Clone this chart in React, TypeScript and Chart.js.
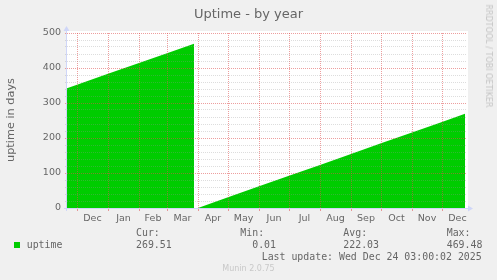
import React, { useEffect, useRef } from 'react';
import { Chart, registerables } from 'chart.js';

Chart.register(...registerables);

const W = 497;
const H = 280;

// Days counted from 1 Dec 2024
const segment1Days = [-10, 0, 31, 62, 90, 117];
const segment1Uptime = [342.5, 352.5, 383.5, 414.5, 442.5, 469.48];
const gapDay = 119;
const segment2Days = [121, 151, 182, 212, 243, 274, 304, 335, 365, 388];
const segment2Uptime = [0.01, 31, 62, 92, 123, 154, 185, 216, 246, 269.51];

const monthNames = ['Dec', 'Jan', 'Feb', 'Mar', 'Apr', 'May', 'Jun', 'Jul', 'Aug', 'Sep', 'Oct', 'Nov', 'Dec'];
const monthStartDays = [0, 31, 62, 90, 121, 151, 182, 212, 243, 274, 304, 335, 365];
const monthLengths = [31, 31, 28, 31, 30, 31, 30, 31, 31, 30, 31, 30, 31];
const yMajorTicks = [0, 100, 200, 300, 400, 500];
const yMinorStep = 20;
const xMin = -10;
const xMax = 390;

const legendLabels = ['Cur:', 'Min:', 'Avg:', 'Max:'];
const legendValues = ['269.51', '  0.01', '222.03', '469.48'];
const legendX = [136, 240.3, 343.3, 446.7];

const MAJOR = 'rgba(222,79,79,0.55)';
const MINOR = 'rgba(150,150,150,0.32)';
const AXIS = '#CFD6F8';
const FONT = '#666666';

type TextProps = {
  x: number;
  cy: number;
  size: number;
  text: string;
  align?: 'left' | 'center';
  family?: string;
  color?: string;
  rotate?: number;
};

function Txt({ x, cy, size, text, align = 'left', family = 'DejaVu Sans', color = FONT, rotate = 0 }: TextProps) {
  const style: React.CSSProperties = {
    position: 'absolute',
    left: x,
    top: rotate ? cy : cy - 0.481 * size,
    fontFamily: family,
    fontSize: size,
    lineHeight: `${size}px`,
    color,
    whiteSpace: 'pre',
  };
  if (rotate) {
    style.transform = `translate(-50%, -50%) rotate(${rotate}deg)`;
  } else if (align === 'center') {
    style.transform = 'translateX(-50%)';
  }
  return <div style={style}>{text}</div>;
}

export default function App() {
  const ref = useRef<HTMLCanvasElement | null>(null);

  useEffect(() => {
    document.body.style.margin = '0';
    const canvas = ref.current;
    if (!canvas) return;

    const points: { x: number; y: number | null }[] = [
      ...segment1Days.map((d, i) => ({ x: d, y: segment1Uptime[i] })),
      { x: gapDay, y: null },
      ...segment2Days.map((d, i) => ({ x: d, y: segment2Uptime[i] })),
    ];
    const monthMidDays = monthStartDays.map((d, i) => d + monthLengths[i] / 2);
    const yAllTicks: number[] = [];
    for (let v = yMajorTicks[0]; v <= yMajorTicks[yMajorTicks.length - 1]; v += yMinorStep) yAllTicks.push(v);

    const canvasBg = {
      id: 'canvasBg',
      beforeDraw(chart: any) {
        const { ctx, chartArea: a } = chart;
        ctx.save();
        ctx.fillStyle = '#ffffff';
        ctx.fillRect(a.left, a.top - 2, a.right - a.left + 1, a.bottom - a.top + 2);
        ctx.restore();
      },
    };

    const axes = {
      id: 'axesArrows',
      afterDraw(chart: any) {
        const { ctx, chartArea: a } = chart;
        ctx.save();
        ctx.strokeStyle = AXIS;
        ctx.fillStyle = AXIS;
        ctx.lineWidth = 1;
        const lx = a.left - 0.5;
        const by = a.bottom + 0.5;
        ctx.beginPath();
        ctx.moveTo(lx, a.bottom + 3);
        ctx.lineTo(lx, a.top - 2);
        ctx.stroke();
        ctx.beginPath();
        ctx.moveTo(lx - 3, a.top - 2);
        ctx.lineTo(lx + 3, a.top - 2);
        ctx.lineTo(lx, a.top - 7);
        ctx.closePath();
        ctx.fill();
        ctx.beginPath();
        ctx.moveTo(a.left - 3, by);
        ctx.lineTo(a.right + 2, by);
        ctx.stroke();
        ctx.beginPath();
        ctx.moveTo(a.right + 1, by - 3);
        ctx.lineTo(a.right + 1, by + 3);
        ctx.lineTo(a.right + 6, by);
        ctx.closePath();
        ctx.fill();
        ctx.restore();
      },
    };

    const tickFont = { family: 'DejaVu Sans', size: 9.5 };

    const chart = new Chart(canvas, {
      type: 'line',
      data: {
        datasets: [
          {
            label: 'uptime',
            data: points as any,
            xAxisID: 'x',
            yAxisID: 'y',
            fill: 'origin',
            backgroundColor: '#00cc00',
            borderColor: 'rgba(0,0,0,0)',
            borderWidth: 0,
            pointRadius: 0,
            tension: 0,
            spanGaps: false,
          },
        ],
      },
      options: {
        responsive: false,
        animation: false,
        events: [],
        layout: { padding: { left: 0, top: 33, right: 30, bottom: 52 } },
        plugins: {
          legend: { display: false },
          tooltip: { enabled: false },
          title: { display: false },
        },
        scales: {
          xg: {
            type: 'linear',
            position: 'bottom',
            weight: 0,
            min: xMin,
            max: xMax,
            grid: { color: MAJOR, lineWidth: 1, drawTicks: true, tickLength: 3, z: 1 } as any,
            border: { display: false, dash: [1, 1] },
            ticks: { display: false },
            afterBuildTicks: (s: any) => {
              s.ticks = monthStartDays.map((v) => ({ value: v }));
            },
            afterFit: (s: any) => {
              s.height = 0;
            },
          },
          x: {
            type: 'linear',
            position: 'bottom',
            weight: 1,
            min: xMin,
            max: xMax,
            grid: { display: false, drawTicks: false },
            border: { display: false },
            ticks: {
              autoSkip: false,
              maxRotation: 0,
              padding: 5,
              color: FONT,
              font: tickFont,
              callback: (_v: any, i: number) => monthNames[i],
            },
            afterBuildTicks: (s: any) => {
              s.ticks = monthMidDays.map((v) => ({ value: v }));
            },
            afterFit: (s: any) => {
              s.height = 20;
            },
          },
          y: {
            type: 'linear',
            min: 0,
            max: 500,
            grid: {
              color: (c: any) => (c.tick && c.tick.value % 100 === 0 ? MAJOR : MINOR),
              lineWidth: 1,
              tickLength: 2,
              z: 1,
            } as any,
            border: { display: false, dash: [1, 1] },
            ticks: {
              autoSkip: false,
              padding: 4,
              color: FONT,
              font: tickFont,
              callback: (v: any) => (yMajorTicks.includes(Number(v)) ? String(v) : ''),
            },
            afterBuildTicks: (s: any) => {
              s.ticks = yAllTicks.map((v) => ({ value: v }));
            },
            afterFit: (s: any) => {
              s.width = 67;
            },
          },
        },
      },
      plugins: [canvasBg, axes],
    });

    return () => chart.destroy();
  }, []);

  const mono = 'DejaVu Sans Mono';
  const lsize = 9.9;

  return (
    <div style={{ position: 'relative', width: W, height: H, background: '#f0f0f0', overflow: 'hidden' }}>
      <canvas ref={ref} width={W} height={H} style={{ position: 'absolute', left: 0, top: 0, width: W, height: H }} />
      <Txt x={248.5} cy={13} size={13} text="Uptime - by year" align="center" />
      <Txt x={11} cy={120} size={11.3} text="uptime in days" rotate={-90} />
      <Txt x={488} cy={56} size={8} text="RRDTOOL / TOBI OETIKER" rotate={90} color="#c4c4c4" />
      <div style={{ position: 'absolute', left: 14, top: 242, width: 6, height: 6, background: '#00cc00' }} />
      <Txt x={26.7} cy={244.5} size={lsize} text="uptime" family={mono} />
      {legendLabels.map((t, i) => (
        <Txt key={'l' + i} x={legendX[i]} cy={232.5} size={lsize} text={t} family={mono} />
      ))}
      {legendValues.map((t, i) => (
        <Txt key={'v' + i} x={legendX[i]} cy={244.5} size={lsize} text={t} family={mono} />
      ))}
      <Txt x={261.7} cy={256.5} size={lsize} text="Last update: Wed Dec 24 03:00:02 2025" family={mono} />
      <Txt x={248.5} cy={268.5} size={8} text="Munin 2.0.75" align="center" color="#c8c8c8" />
    </div>
  );
}
